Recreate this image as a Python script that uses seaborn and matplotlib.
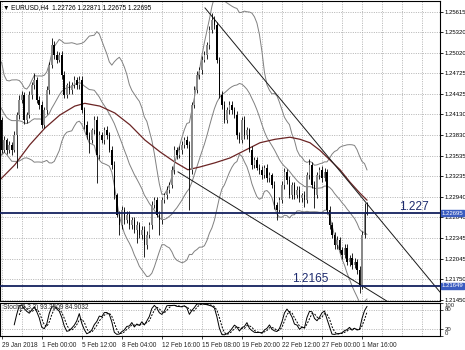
import numpy as np
import pandas as pd
import matplotlib
matplotlib.use("Agg")
import matplotlib.pyplot as plt
import seaborn as sns

# ---------------- data ----------------
closes = [
    1.2405, 1.2362, 1.2376, 1.2362, 1.2369, 1.2362, 1.2383, 1.2412, 1.2434, 1.2441,
    1.2405, 1.2412, 1.2441, 1.2455, 1.2463, 1.2434, 1.2427, 1.2398, 1.2419, 1.2448,
    1.2484, 1.2513, 1.2499, 1.2492, 1.2499, 1.2470, 1.2441, 1.2455, 1.2448, 1.2455,
    1.2463, 1.2455, 1.2463, 1.2419, 1.2398, 1.2383, 1.2376, 1.2390, 1.2405, 1.2354,
    1.2383, 1.2376, 1.2390, 1.2383, 1.2362, 1.2340, 1.2296, 1.2268, 1.2253, 1.2275,
    1.2260, 1.2268, 1.2253, 1.2260, 1.2246, 1.2253, 1.2239, 1.2246, 1.2224, 1.2239,
    1.2253, 1.2282, 1.2289, 1.2268, 1.2260, 1.2289, 1.2296, 1.2304, 1.2311, 1.2333,
    1.2362, 1.2354, 1.2362, 1.2369, 1.2376, 1.2369, 1.2333, 1.2427, 1.2448, 1.2470,
    1.2477, 1.2492, 1.2499, 1.2513, 1.2535, 1.2549, 1.2542, 1.2492, 1.2441, 1.2427,
    1.2405, 1.2419, 1.2427, 1.2419, 1.2412, 1.2383, 1.2376, 1.2405, 1.2383, 1.2390,
    1.2362, 1.2340, 1.2347, 1.2336, 1.2333, 1.2325, 1.2336, 1.2321, 1.2325, 1.2311,
    1.2282, 1.2275, 1.2289, 1.2311, 1.2330, 1.2318, 1.2296, 1.2311, 1.2296, 1.2304,
    1.2292, 1.2296, 1.2289, 1.2325, 1.2340, 1.2311, 1.2296, 1.2325, 1.2333, 1.2321,
    1.2330, 1.2275, 1.2253, 1.2239, 1.2224, 1.2231, 1.2217, 1.2210, 1.2220, 1.2200,
    1.2206, 1.2195, 1.2200, 1.2188, 1.2166, 1.2239, 1.22726, 1.22695,
]
first_open = 1.2390
up_wick_pips = [
    5, 4, 6, 3, 5, 4, 6, 5, 7, 6,  4, 5, 6, 5, 10, 4, 6, 5, 4, 6,
    5, 10, 6, 5, 4, 6, 5, 4, 6, 5,  5, 4, 6, 5, 4, 6, 5, 4, 6, 5,
    6, 4, 5, 6, 4, 5, 6, 4, 5, 6,  4, 5, 6, 4, 5, 6, 4, 5, 6, 5,
    4, 6, 5, 4, 6, 5, 4, 6, 5, 6,  5, 4, 6, 5, 4, 6, 5, 4, 6, 5,
    4, 6, 5, 5, 6, 11, 6, 5, 4, 6,  5, 4, 6, 5, 4, 6, 5, 4, 6, 5,
    4, 6, 5, 4, 6, 5, 4, 6, 5, 4,  6, 5, 4, 6, 5, 4, 6, 5, 4, 6,
    5, 4, 6, 5, 8, 4, 6, 5, 4, 6,  5, 4, 6, 5, 4, 6, 5, 4, 6, 5,
    4, 6, 5, 4, 6, 5, 12, 14.5,
]
down_wick_pips = [
    6, 5, 4, 6, 5, 7, 4, 47, 5, 4,  6, 5, 4, 6, 5, 4, 6, 5, 4, 6,
    5, 4, 6, 5, 4, 6, 5, 4, 6, 5,  4, 6, 5, 4, 6, 5, 19, 4, 6, 40,
    5, 4, 6, 5, 4, 6, 5, 4, 14, 5,  6, 4, 5, 6, 4, 19, 5, 6, 17, 5,
    4, 6, 5, 4, 21, 5, 4, 6, 5, 4,  6, 5, 4, 6, 5, 4, 58, 6, 5, 4,
    6, 5, 4, 6, 5, 4, 6, 5, 4, 6,  5, 4, 6, 5, 4, 6, 5, 4, 6, 5,
    4, 6, 5, 4, 6, 5, 4, 6, 5, 4,  6, 15, 5, 4, 6, 5, 4, 6, 5, 4,
    6, 5, 10, 4, 6, 5, 18, 4, 6, 5,  4, 6, 5, 4, 6, 5, 4, 6, 5, 4,
    6, 5, 4, 6, 11, 5, 4, 2,
]
# closes of the bars just left of the visible window (feed the Bollinger bands)
pre_closes = [1.2480, 1.2510, 1.2470, 1.2425, 1.2395, 1.2385, 1.2410, 1.2440, 1.2460, 1.2450,
              1.2425, 1.2410, 1.2395, 1.2420, 1.2440, 1.2425, 1.2405, 1.2395, 1.2385]

# moving average (dark red line) read at a few bars
ma_bar = [1.2, 7.2, 13.2, 19.2, 25.2, 31.2, 35.2, 41.2, 47.2, 53.2, 59.2, 65.2, 71.2, 76.4,
          81.2, 87.2, 93.2, 99.2, 105.2, 111.2, 117.2, 121.2, 125.2, 129.2, 133.2, 137.2,
          141.2, 145.2, 148]
ma_val = [1.2318, 1.2340, 1.2369, 1.2393, 1.2412, 1.2425, 1.2429, 1.2425, 1.2415, 1.2398,
          1.2376, 1.2359, 1.2344, 1.2333, 1.2337, 1.2343, 1.2350, 1.2361, 1.2372, 1.2377,
          1.2380, 1.2377, 1.2372, 1.2361, 1.2347, 1.2333, 1.2315, 1.2299, 1.2289]

# hand-drawn trend lines (bar, price)
trend1_bar = [83.2, 177.2]
trend1_val = [1.2567, 1.2156]
trend2_bar = [72.4, 156.0]
trend2_val = [1.2330, 1.2143]

hline_vals = [1.2270, 1.2165]
hline_texts = ["1.227", "1.2165"]
hline_text_bar = [160.6, 118.2]
scale_labels = ["1.22695", "1.21649"]

price_ticks = [1.25615, 1.25320, 1.25020, 1.24725, 1.24425, 1.24130, 1.23830, 1.23535,
               1.23235, 1.22940, 1.22640, 1.22345, 1.22045, 1.21750, 1.21450]
grid_bars = list(range(2, 178, 8))
label_bars = [2, 18, 34, 50, 66, 82, 98, 114, 130, 146]
label_texts = ["29 Jan 2018", "1 Feb 00:00", "5 Feb 12:00", "8 Feb 04:00", "12 Feb 16:00",
               "15 Feb 08:00", "19 Feb 20:00", "22 Feb 12:00", "27 Feb 00:00", "1 Mar 16:00"]
header_text = "\u25BC EURUSD,H4  1.22726 1.22871 1.22675 1.22695"
stoch_text = "Stoch(5,3,3) 93.3509 84.9032"
stoch_levels = [0, 20, 80, 100]

# ---------------- styling ----------------
sns.set_theme(style="white")
plt.rcParams['font.family'] = ['Liberation Sans', 'DejaVu Sans']
SMALL = 4.3
XLAB = 4.7
PIP = 0.0001
GRID = dict(color='#a8a8a8', linestyle=(0, (1.2, 1.6)), linewidth=0.6)

bars = np.arange(1, len(closes) + 1)
c = np.array(closes)
o = np.array([first_open] + closes[:-1])
hi = np.maximum(o, c) + np.array(up_wick_pips) * PIP
lo = np.minimum(o, c) - np.array(down_wick_pips) * PIP

allc = pd.Series(pre_closes + closes, index=np.arange(1 - len(pre_closes), len(closes) + 1))
mid = allc.rolling(20).mean()
sd = allc.rolling(20).std(ddof=0)
bb = pd.DataFrame({'bar': allc.index, 'mid': mid.values,
                   'up': (mid + 2 * sd).values, 'lo': (mid - 2 * sd).values}).dropna()

hs = pd.Series(hi); ls = pd.Series(lo); cs = pd.Series(c)
low5 = ls.rolling(5).min(); high5 = hs.rolling(5).max()
k = 100 * (cs - low5).rolling(3).sum() / (high5 - low5).rolling(3).sum()
d = k.rolling(3).mean()
st = pd.DataFrame({'bar': bars, 'k': k.values, 'd': d.values})

fig = plt.figure(figsize=(4.65, 3.5), dpi=100)
fig.patch.set_facecolor('white')
ax = fig.add_axes([0.001, 0.14, 0.946, 0.857])
ax2 = fig.add_axes([0.001, 0.04, 0.946, 0.094])

XMIN, XMAX = 1.5, 177.3
for a in (ax, ax2):
    a.set_facecolor('white')
    a.set_xlim(XMIN, XMAX)
    for s in a.spines.values():
        s.set_color('black'); s.set_linewidth(0.8)
    for gb in grid_bars:
        a.axvline(gb, zorder=0, **GRID)

ax.set_ylim(1.21433, 1.25768)
for t in price_ticks:
    ax.axhline(t, zorder=0, **GRID)

# Bollinger bands
for col in ['up', 'mid', 'lo']:
    sns.lineplot(data=bb, x='bar', y=col, ax=ax, color='#808080', linewidth=0.7, zorder=2)
# moving average
sns.lineplot(x=ma_bar, y=ma_val, ax=ax, color='#6b2424', linewidth=0.9, zorder=2)
# trend lines
sns.lineplot(x=trend1_bar, y=trend1_val, ax=ax, color='#1a1a1a', linewidth=0.7, zorder=2)
sns.lineplot(x=trend2_bar, y=trend2_val, ax=ax, color='#1a1a1a', linewidth=0.7, zorder=2)

# candles
ax.vlines(bars, lo, hi, color='black', linewidth=0.6, zorder=3)
body_col = np.where(c >= o, '#8a8a8a', '#000000')
body_h = np.maximum(np.abs(c - o), 0.00004)
ax.bar(bars, body_h, bottom=np.minimum(o, c), width=0.62, color=body_col, linewidth=0, zorder=4)

# horizontal lines
for v, txt, tb in zip(hline_vals, hline_texts, hline_text_bar):
    ax.axhline(v, color='#14215e', linewidth=1.3, zorder=5)
    ax.text(tb, v + 0.00012, txt, fontsize=8.6, color='#1c2a6e',
            va='bottom', ha='left', zorder=6)

ax.yaxis.tick_right()
ax.set_yticks(price_ticks)
ax.set_yticklabels([f"{t:.5f}" for t in price_ticks], fontsize=SMALL)
ax.tick_params(axis='y', direction='out', length=2, width=0.6, pad=1, colors='black', right=True, left=False)
ax.set_xticks([])
ax.set_xlabel(''); ax.set_ylabel('')

for v, lab in zip(hline_vals, scale_labels):
    ax.annotate(lab, xy=(1.0, v), xycoords=('axes fraction', 'data'), xytext=(1.0, 0),
                textcoords='offset points', fontsize=SMALL, color='white', va='center', ha='left',
                bbox=dict(boxstyle='square,pad=0.1', fc='#3a5cc0', ec='#3a5cc0'),
                annotation_clip=False, zorder=7)

ax.text(2.5 / 440, 1 - 6 / 300, header_text, transform=ax.transAxes, fontsize=XLAB,
        va='center', ha='left', color='black')

# stochastic
ax2.set_ylim(0, 100)
for lv in (20, 80):
    ax2.axhline(lv, zorder=0, **GRID)
sns.lineplot(data=st, x='bar', y='k', ax=ax2, color='black', linewidth=0.7)
sns.lineplot(data=st, x='bar', y='d', ax=ax2, color='black', linewidth=0.7, linestyle=(0, (2, 1.4)))
ax2.set_xlabel(''); ax2.set_ylabel('')
ax2.yaxis.tick_right()
ax2.set_yticks(stoch_levels)
ax2.set_yticklabels([str(v) for v in stoch_levels], fontsize=SMALL)
for lbl, v in zip(ax2.get_yticklabels(), stoch_levels):
    lbl.set_va('top' if v == 100 else ('bottom' if v == 0 else 'center'))
ax2.tick_params(axis='y', direction='out', length=2, width=0.6, pad=1, right=True, left=False)
ax2.text(3 / 440, 0.86, stoch_text, transform=ax2.transAxes, fontsize=XLAB, va='center', ha='left')

ax2.set_xticks(label_bars)
ax2.set_xticklabels(label_texts, fontsize=XLAB, ha='left')
ax2.tick_params(axis='x', direction='out', length=2, width=0.6, pad=2, bottom=True)

fig.savefig('out.png', dpi=100, facecolor='white')
